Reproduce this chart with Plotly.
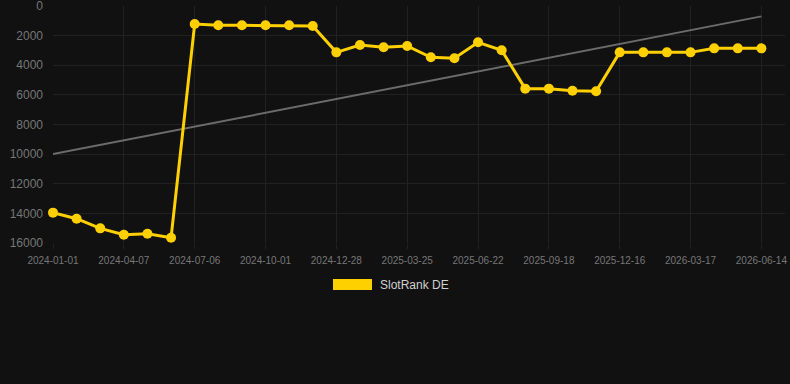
import plotly.graph_objects as go

dates = [
    "2024-01-01", "2024-02-02", "2024-03-05", "2024-04-07", "2024-05-07", "2024-06-06",
    "2024-07-06", "2024-08-04", "2024-09-02", "2024-10-01", "2024-10-30", "2024-11-28",
    "2024-12-28", "2025-01-26", "2025-02-24", "2025-03-25", "2025-04-23", "2025-05-22",
    "2025-06-22", "2025-07-21", "2025-08-19", "2025-09-18", "2025-10-17", "2025-11-16",
    "2025-12-16", "2026-01-15", "2026-02-15", "2026-03-17", "2026-04-15", "2026-05-15",
    "2026-06-14",
]
rank_de = [
    13950, 14360, 15010, 15440, 15370, 15640,
    1215, 1300, 1300, 1300, 1300, 1350,
    3130, 2630, 2790, 2700, 3460, 3530,
    2450, 2990, 5580, 5580, 5720, 5760,
    3130, 3130, 3130, 3130, 2860, 2860,
    2860,
]
trend_values = [10000, 700]
tick_dates = dates[::3]
y_ticks = [0, 2000, 4000, 6000, 8000, 10000, 12000, 14000, 16000]
y_tick_text = [str(v) for v in y_ticks]
series_name = "SlotRank DE"

W, H = 790, 384
ML, MR, MT, MB = 53, 5, 6, 141
PW, PH = W - ML - MR, H - MT - MB

GOLD = "#FFD000"
BG = "#111111"
GRID = "#212121"

fig = go.Figure()
fig.add_trace(go.Scatter(
    x=[dates[0], dates[-1]], y=trend_values, mode="lines",
    line=dict(color="#6b6b6b", width=2), showlegend=False, hoverinfo="skip",
))
fig.add_trace(go.Scatter(
    x=dates, y=rank_de, mode="lines+markers", name=series_name,
    line=dict(color=GOLD, width=3), marker=dict(color=GOLD, size=10),
    cliponaxis=False, showlegend=False,
))

def px_x(p):
    return (p - ML) / PW

def px_y(p):
    return (MT + PH - p) / PH

fig.add_shape(type="rect", xref="paper", yref="paper",
              x0=px_x(333), x1=px_x(372), y0=px_y(290), y1=px_y(279),
              fillcolor=GOLD, line=dict(width=0))
fig.add_annotation(xref="paper", yref="paper", x=px_x(378), y=px_y(285),
                   text=series_name, showarrow=False, xanchor="left", yanchor="middle",
                   font=dict(size=12, color="#d0d0d0"))

fig.update_layout(
    width=W, height=H,
    margin=dict(l=ML, r=MR, t=MT, b=MB),
    paper_bgcolor=BG, plot_bgcolor=BG,
    font=dict(family="Liberation Sans, Arial, sans-serif"),
    showlegend=False,
    xaxis=dict(
        type="category", categoryorder="array", categoryarray=dates,
        range=[0, 31], tickvals=tick_dates, ticktext=tick_dates,
        showgrid=True, gridcolor=GRID, gridwidth=1, zeroline=False,
        showline=False, ticks="outside", ticklen=5, tickcolor=GRID,
        tickfont=dict(size=10, color="#777777"), ticklabelstandoff=3,
        automargin=False,
    ),
    yaxis=dict(
        range=[16000, 0], tickvals=y_ticks, ticktext=y_tick_text,
        showgrid=True, gridcolor=GRID,
        zeroline=False, showline=False, ticks="",
        tickfont=dict(size=12, color="#777777"), ticklabelstandoff=9,
        automargin=False, ticklabeloverflow="allow",
    ),
)

fig.write_html("out.html")
